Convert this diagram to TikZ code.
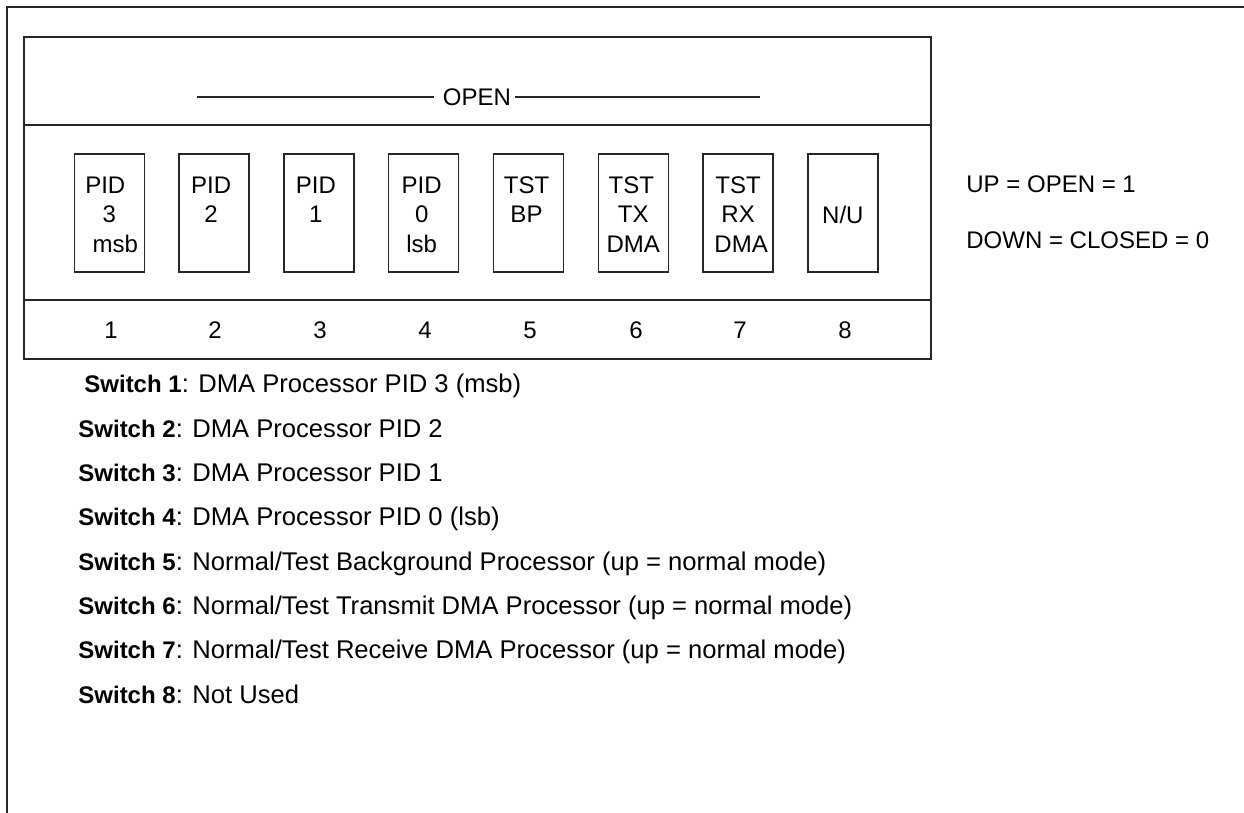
\documentclass[tikz,border=0pt]{standalone}
\usepackage{fontspec}
\setmainfont{Liberation Sans}
\begin{document}
\begin{tikzpicture}[x=0.5pt,y=-0.5pt,
  rule/.style={draw=black!85,line width=1pt},
  thinrule/.style={draw=black!85,line width=0.7pt},
  switchbox/.style={thinrule,minimum width=35pt,minimum height=59pt,
    inner sep=0pt,align=center,font=\fontsize{12}{14.75}\selectfont},
  txt/.style={inner sep=0pt,font=\fontsize{12}{14.4}\selectfont},
  desc/.style={txt,anchor=base west},
  swlabel/.style={inner sep=0pt,align=center,font=\fontsize{12}{14.75}\selectfont}]
\useasboundingbox (0,0) rectangle (1244,813);
\newcommand{\swname}[1]{{\fontsize{12}{14.4}\selectfont\bfseries #1}}

% outer page frame
\draw[rule] (7,813) -- (7,7) -- (1244,7);
\draw[thinrule,line width=0.8pt] (7,7) -- (7,813);

% DIP switch housing
\draw[rule] (24,37) rectangle (931,359);
\draw[rule] (24,125) -- (931,125);
\draw[rule] (24,300) -- (931,300);

% OPEN marker
\node[txt] (open) at (477,97) {OPEN};
\coordinate (openL) at (197,97);
\coordinate (openR) at (760,97);
\draw[thinrule,line width=0.6pt] (openL) -- ([xshift=-4.5pt]open.west);
\draw[thinrule,line width=0.6pt] ([xshift=2pt]open.east) -- (openR);

% switch actuators
\node[switchbox] (s1) at (109.3,213) {};
\node[switchbox] (s2) at (214.1,213) {};
\node[switchbox] (s3) at (318.9,213) {};
\node[switchbox] (s4) at (423.7,213) {};
\node[switchbox] (s5) at (528.5,213) {};
\node[switchbox] (s6) at (633.3,213) {};
\node[switchbox] (s7) at (738.1,213) {};
\node[switchbox] (s8) at (842.9,213) {};

% actuator labels
\node[swlabel] (l1) at ([yshift=-0.75pt]s1.center) {PID\hspace*{4pt}\\3\hspace*{3pt}\\\hspace*{6pt}msb};
\node[swlabel] (l2) at ([yshift=-0.75pt,xshift=-1.5pt]s2.center) {PID\\2\\\mbox{}};
\node[swlabel] (l3) at ([yshift=-0.75pt,xshift=-1.5pt]s3.center) {PID\\1\\\mbox{}};
\node[swlabel] (l4) at ([yshift=-0.75pt,xshift=-1pt]s4.center) {PID\\0\\lsb};
\node[swlabel] (l5) at ([yshift=-0.75pt,xshift=-1pt]s5.center) {TST\\BP\\\mbox{}};
\node[swlabel] (l6) at ([yshift=-0.75pt]s6.center) {TST\hspace*{2pt}\\TX\hspace*{4pt}\\DMA};
\node[swlabel] (l7) at ([yshift=-0.75pt]s7.center) {TST\\RX\hspace*{4pt}\\\hspace*{3pt}DMA};
\node[swlabel] (l8) at ([yshift=-0.75pt]s8.center) {N/U};

% switch numbers
\foreach \i/\x in {1/111,2/215,3/320,4/425,5/530,6/636,7/740,8/845}
  \node[txt] (n\i) at (\x,330) {\i};

% legend
\node[desc] (up) at (966,193) {UP = OPEN = 1};
\node[desc] (down) at (966,249) {DOWN = CLOSED = 0};

% switch descriptions
\tikzset{desc/.append style={font=\fontsize{12.8}{15}\selectfont}}
\node[desc] (d1) at (84,393) {\swname{Switch 1}: DMA Processor PID 3 (msb)};
\node[desc] (d2) at (78,437.3) {\swname{Switch 2}: DMA Processor PID 2};
\node[desc] (d3) at (78,481.6) {\swname{Switch 3}: DMA Processor PID 1};
\node[desc] (d4) at (78,525.9) {\swname{Switch 4}: DMA Processor PID 0 (lsb)};
\node[desc] (d5) at (78,570.2) {\swname{Switch 5}: Normal/Test Background Processor (up = normal mode)};
\node[desc] (d6) at (78,614.5) {\swname{Switch 6}: Normal/Test Transmit DMA Processor (up = normal mode)};
\node[desc] (d7) at (78,658.8) {\swname{Switch 7}: Normal/Test Receive DMA Processor (up = normal mode)};
\node[desc] (d8) at (78,703.1) {\swname{Switch 8}: Not Used};
\end{tikzpicture}
\end{document}
